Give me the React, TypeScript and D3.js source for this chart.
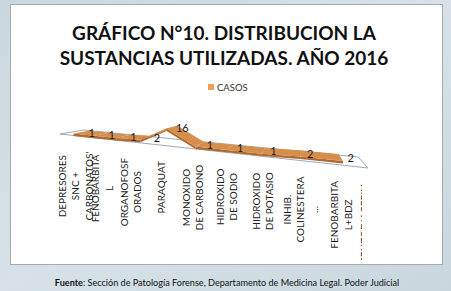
import React, { useMemo } from "react";
import * as d3 from "d3";

// ---- data ----
const categories = [
  "DEPRESORES SNC + CARBONATOS'",
  "FENOBARBITAL",
  "ORGANOFOSFORADOS",
  "PARAQUAT",
  "MONOXIDO DE CARBONO",
  "HIDROXIDO DE SODIO",
  "HIDROXIDO DE POTASIO",
  "INHIB. COLINESTERASA",
  "FENOBARBITAL+BDZ",
  "BENZODIACEPINAS + ANTICONVULSIVANTES",
];
const categoryLines = [
  ["DEPRESORES", "SNC +", "CARBONATOS'"],
  ["FENOBARBITA", "L"],
  ["ORGANOFOSF", "ORADOS"],
  ["PARAQUAT"],
  ["MONOXIDO", "DE CARBONO"],
  ["HIDROXIDO", "DE SODIO"],
  ["HIDROXIDO", "DE POTASIO"],
  ["INHIB.", "COLINESTERA", "..."],
  ["FENOBARBITA", "L+BDZ"],
  ["BENZODIACEPIN", "AS +", "ANTICONVULSI", "VANTES"],
];
const casos = [1, 1, 1, 2, 16, 1, 1, 1, 2, 2];
const seriesName = "CASOS";
const titleLines = ["GRÁFICO N°10. DISTRIBUCION LA", "SUSTANCIAS UTILIZADAS. AÑO 2016"];

const W = 451;
const H = 291;
const FONT = "Lato, 'Open Sans', sans-serif";

// floor corners (front-left, front-right, back-right, back-left)
const P0 = [60, 134];
const P1 = [368, 168];
const P2 = [358, 157];
const P3 = [83, 130];

function makeHomography() {
  const [x0, y0] = P0, [x1, y1] = P1, [x2, y2] = P2, [x3, y3] = P3;
  const dx1 = x1 - x2, dx2 = x3 - x2, dx3 = x0 - x1 + x2 - x3;
  const dy1 = y1 - y2, dy2 = y3 - y2, dy3 = y0 - y1 + y2 - y3;
  const den = dx1 * dy2 - dx2 * dy1;
  const g = (dx3 * dy2 - dx2 * dy3) / den;
  const h = (dx1 * dy3 - dx3 * dy1) / den;
  const a = x1 - x0 + g * x1, b = x3 - x0 + h * x3, c = x0;
  const d = y1 - y0 + g * y1, e = y3 - y0 + h * y3, f = y0;
  return (u: number, v: number) => {
    const w = g * u + h * v + 1;
    return { x: (a * u + b * v + c) / w, y: (d * u + e * v + f) / w, w };
  };
}

export default function App() {
  const project = useMemo(makeHomography, []);
  const uScale = d3.scaleBand().domain(categories).range([0, 1]);
  const hScale = d3.scaleLinear().domain([0, 16]).range([0, 13.5]);
  const labelT = d3.scalePoint().domain(categories).range([0, 1]);
  const warp = (t: number) => t / (t + 1.3 * (1 - t));
  const labelX = d3.scaleLinear().domain([0, 1]).range([75, 384]);
  const frontY = d3.scaleLinear().domain([P0[0], P1[0]]).range([P0[1], P1[1]]);

  const measure = useMemo(() => {
    const cv = document.createElement("canvas");
    const ctx = cv.getContext("2d")!;
    ctx.font = `10px ${FONT}`;
    return (s: string) => ctx.measureText(s).width;
  }, []);

  const vF = 0.15, vB = 0.85, thick = 2.4;
  const pt = (i: number, v: number) => {
    const u = (uScale(categories[i]) as number) + uScale.bandwidth() / 2;
    const p = project(u, v);
    return [p.x, p.y - hScale(casos[i]) / p.w] as [number, number];
  };
  const line = d3.line();
  const segs = casos.slice(0, -1).map((_, i) => {
    const f0 = pt(i, vF), f1 = pt(i + 1, vF), b0 = pt(i, vB), b1 = pt(i + 1, vB);
    return {
      top: line([f0, f1, b1, b0]) + "Z",
      front: line([f0, f1, [f1[0], f1[1] + thick], [f0[0], f0[1] + thick]]) + "Z",
    };
  });
  const floor = line([P0, P1, P2, P3] as [number, number][]) + "Z";

  return (
    <svg width={W} height={H} style={{ position: "fixed", left: 0, top: 0 }} fontFamily={FONT}>
      <defs>
        <linearGradient id="bg" x1="0" y1="0" x2="1" y2="1">
          <stop offset="0" stopColor="#c9d8df" />
          <stop offset="0.5" stopColor="#d6e2e7" />
          <stop offset="1" stopColor="#c8d7de" />
        </linearGradient>
        <clipPath id="plot">
          <rect x={10} y={100} width={352} height={160} />
        </clipPath>
      </defs>
      <rect x={0} y={0} width={W} height={H} fill="url(#bg)" />
      <rect x={10.5} y={4.5} width={432} height={260} fill="#ffffff" stroke="#a9a9a9" strokeWidth={1} />
      {titleLines.map((t, i) => (
        <text key={i} x={224} y={39.5 + i * 25} textAnchor="middle" fontSize={19} fontWeight={700} fill="#111">
          {t}
        </text>
      ))}
      <rect x={208} y={84} width={6} height={6} fill="#f0a05c" />
      <text x={217} y={90.5} fontSize={9.5} fill="#333">{seriesName}</text>

      <path d={floor} fill="#ffffff" stroke="#9ea9b8" strokeWidth={1} />
      {segs.map((s, i) => (
        <g key={i}>
          <path d={s.front} fill="#b0692e" />
          <path d={s.top} fill="#d68e4c" />
        </g>
      ))}
      {casos.map((v, i) => {
        const [x, y] = pt(i, (vF + vB) / 2);
        return (
          <text key={i} x={x + 10} y={y} textAnchor="middle" dominantBaseline="central" fontSize={11} fill="#1a1a1a">
            {v}
          </text>
        );
      })}
      <g clipPath="url(#plot)">
        {categories.map((c, i) => {
          const lines = categoryLines[i];
          const cx = labelX(warp(labelT(c) as number));
          const maxLen = d3.max(lines, (l) => measure(l)) as number;
          const cy = frontY(Math.min(cx, P1[0])) + 16 + maxLen / 2;
          return lines.map((l, j) => {
            const lx = cx + (j - (lines.length - 1) / 2) * 13.5;
            return (
              <text key={c + j} transform={`translate(${lx},${cy}) rotate(-90)`} textAnchor="middle"
                dominantBaseline="central" fontSize={10} fill="#1a1a1a">
                {l}
              </text>
            );
          });
        })}
      </g>
      <text x={227} y={285.5} textAnchor="middle" fontSize={9.1} fill="#111">
        <tspan fontWeight={700}>Fuente</tspan>: Sección de Patología Forense, Departamento de Medicina Legal. Poder Judicial
      </text>
    </svg>
  );
}
